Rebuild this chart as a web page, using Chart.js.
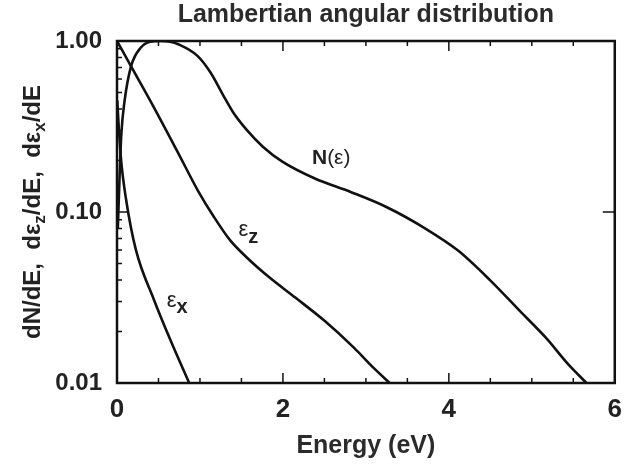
<!DOCTYPE html>
<html>
<head>
<meta charset="utf-8">
<script src="https://cdn.jsdelivr.net/npm/chart.js@4.4.1/dist/chart.umd.min.js"></script>
<style>
  html, body { margin: 0; padding: 0; background: #fff; }
  #wrap { width: 633px; height: 467px; position: relative; }
</style>
</head>
<body>
<div id="wrap"><canvas id="myChart"></canvas></div>
<script>
const FONT = '"Liberation Sans", Arial, Helvetica, sans-serif';

const titleText = 'Lambertian angular distribution';
const xTitle = 'Energy (eV)';
const yTicks = [0.01, 0.1, 1];
const xTicks = [0, 2, 4, 6];

// N(eps)
const nEnergy = [0.01, 0.032, 0.052, 0.091, 0.17, 0.287, 0.40, 0.52, 0.64, 0.738, 0.973, 1.129, 1.287, 1.405, 1.561, 1.758, 1.993, 2.385, 2.816, 3.247, 3.718, 4.111, 4.502, 4.855, 5.169, 5.443, 5.659];
const nValues = [0.08, 0.166, 0.284, 0.445, 0.713, 0.916, 0.99, 1.0, 0.99, 0.957, 0.816, 0.652, 0.475, 0.379, 0.303, 0.241, 0.197, 0.157, 0.131, 0.107, 0.080, 0.0595, 0.0397, 0.0264, 0.0184, 0.0128, 0.01];

// eps_z
const zEnergy = [0, 0.17, 0.42, 0.738, 0.973, 1.169, 1.365, 1.561, 1.835, 2.149, 2.502, 2.855, 3.09, 3.287];
const zValues = [1.0, 0.71, 0.43, 0.221, 0.134, 0.0935, 0.0682, 0.0544, 0.0415, 0.0316, 0.0231, 0.0161, 0.0123, 0.01];

// eps_x
const xEnergy = [0.003, 0.02, 0.05, 0.11, 0.228, 0.444, 0.64, 0.87];
const xValues = [0.45, 0.32, 0.2, 0.118, 0.060, 0.0308, 0.018, 0.01];

const toPoints = (xs, ys) => xs.map((x, i) => ({ x: x, y: ys[i] }));

function curve(label, xs, ys) {
    return {
        label: label,
        data: toPoints(xs, ys),
        borderColor: '#111',
        borderWidth: 2.6,
        pointRadius: 0,
        fill: false,
        cubicInterpolationMode: 'monotone'
    };
}

// frame with inward ticks on all sides
const framePlugin = {
    id: 'frame',
    afterDatasetsDraw(chart) {
        const { ctx, chartArea: a, scales: { x, y } } = chart;
        ctx.save();
        ctx.strokeStyle = '#111';
        ctx.lineWidth = 1.5;
        ctx.beginPath();
        for (let e = 0.5; e < 6; e += 0.5) {
            const px = x.getPixelForValue(e);
            const len = (e % 2 === 0) ? 10 : 5;
            ctx.moveTo(px, a.bottom); ctx.lineTo(px, a.bottom - len);
            ctx.moveTo(px, a.top); ctx.lineTo(px, a.top + len);
        }
        [0.01, 0.1].forEach(d => {
            for (let k = 2; k <= 9; k++) {
                const py = y.getPixelForValue(k * d);
                ctx.moveTo(a.left, py); ctx.lineTo(a.left + 5, py);
            }
        });
        const p10 = y.getPixelForValue(0.1);
        ctx.moveTo(a.left, p10); ctx.lineTo(a.left + 10, p10);
        ctx.moveTo(a.right, p10); ctx.lineTo(a.right - 12, p10);
        ctx.stroke();
        ctx.lineWidth = 2.5;
        ctx.strokeRect(a.left, a.top, a.right - a.left, a.bottom - a.top);
        ctx.restore();
    }
};

function drawParts(ctx, parts, x, y) {
    parts.forEach(p => {
        ctx.font = p.font;
        ctx.fillText(p.text, x, y + (p.dy || 0));
        x += ctx.measureText(p.text).width;
    });
}

function partsWidth(ctx, parts) {
    return parts.reduce((w, p) => { ctx.font = p.font; return w + ctx.measureText(p.text).width; }, 0);
}

// y axis title with subscripts and the curve labels
const textPlugin = {
    id: 'texts',
    afterDraw(chart) {
        const { ctx, chartArea: a, scales: { x, y } } = chart;
        const B = 'bold 24px ' + FONT;
        const S = 'bold 17px ' + FONT;
        const yParts = [
            { text: 'dN/dE,  d', font: B }, { text: 'ε', font: B }, { text: 'z', font: S, dy: 5 },
            { text: '/dE,  d', font: B }, { text: 'ε', font: B }, { text: 'x', font: S, dy: 5 },
            { text: '/dE', font: B }
        ];
        ctx.save();
        ctx.fillStyle = '#222';
        ctx.textBaseline = 'alphabetic';
        ctx.translate(40, (a.top + a.bottom) / 2);
        ctx.rotate(-Math.PI / 2);
        drawParts(ctx, yParts, -partsWidth(ctx, yParts) / 2, 0);
        ctx.restore();

        ctx.save();
        ctx.fillStyle = '#222';
        ctx.textBaseline = 'alphabetic';
        drawParts(ctx, [
            { text: 'N', font: 'bold 21px ' + FONT },
            { text: '(ε)', font: '21px ' + FONT }
        ], x.getPixelForValue(2.35), y.getPixelForValue(0.19));
        drawParts(ctx, [
            { text: 'ε', font: '22px ' + FONT },
            { text: 'z', font: 'bold 20px ' + FONT, dy: 7 }
        ], x.getPixelForValue(1.465), y.getPixelForValue(0.0722));
        drawParts(ctx, [
            { text: 'ε', font: '22px ' + FONT },
            { text: 'x', font: 'bold 20px ' + FONT, dy: 6 }
        ], x.getPixelForValue(0.60), y.getPixelForValue(0.0278));
        ctx.restore();
    }
};

const ctx = document.getElementById('myChart').getContext('2d');
new Chart(ctx, {
    type: 'line',
    data: {
        datasets: [
            curve('N(ε)', nEnergy, nValues),
            curve('εz', zEnergy, zValues),
            curve('εx', xEnergy, xValues)
        ]
    },
    options: {
        responsive: true,
        maintainAspectRatio: false,
        animation: false,
        layout: { padding: { top: 0, right: 6, left: 0, bottom: 0 } },
        plugins: {
            legend: { display: false },
            tooltip: { enabled: false },
            title: {
                display: true,
                text: titleText,
                fullSize: false,
                color: '#2b2b2b',
                font: { family: FONT, size: 25, weight: 'bold' },
                padding: { top: 0, bottom: 11 }
            }
        },
        scales: {
            x: {
                type: 'linear',
                min: 0,
                max: 6,
                grid: { display: false, drawTicks: false },
                border: { display: false },
                afterBuildTicks: s => { s.ticks = xTicks.map(v => ({ value: v })); },
                afterFit: s => { s.height = 84; },
                ticks: {
                    color: '#222',
                    padding: 11,
                    maxRotation: 0,
                    font: { family: FONT, size: 26, weight: 'bold' }
                },
                title: {
                    display: true,
                    text: xTitle,
                    color: '#2b2b2b',
                    font: { family: FONT, size: 25, weight: 'bold' },
                    padding: { top: 0, bottom: 6 }
                }
            },
            y: {
                type: 'logarithmic',
                min: 0.01,
                max: 1,
                grid: { display: false, drawTicks: false },
                border: { display: false },
                afterBuildTicks: s => { s.ticks = yTicks.map(v => ({ value: v })); },
                afterFit: s => { s.width = 117; },
                ticks: {
                    color: '#222',
                    padding: 15,
                    font: { family: FONT, size: 24, weight: 'bold' },
                    callback: v => Number(v).toFixed(2)
                }
            }
        }
    },
    plugins: [framePlugin, textPlugin]
});
</script>
</body>
</html>
